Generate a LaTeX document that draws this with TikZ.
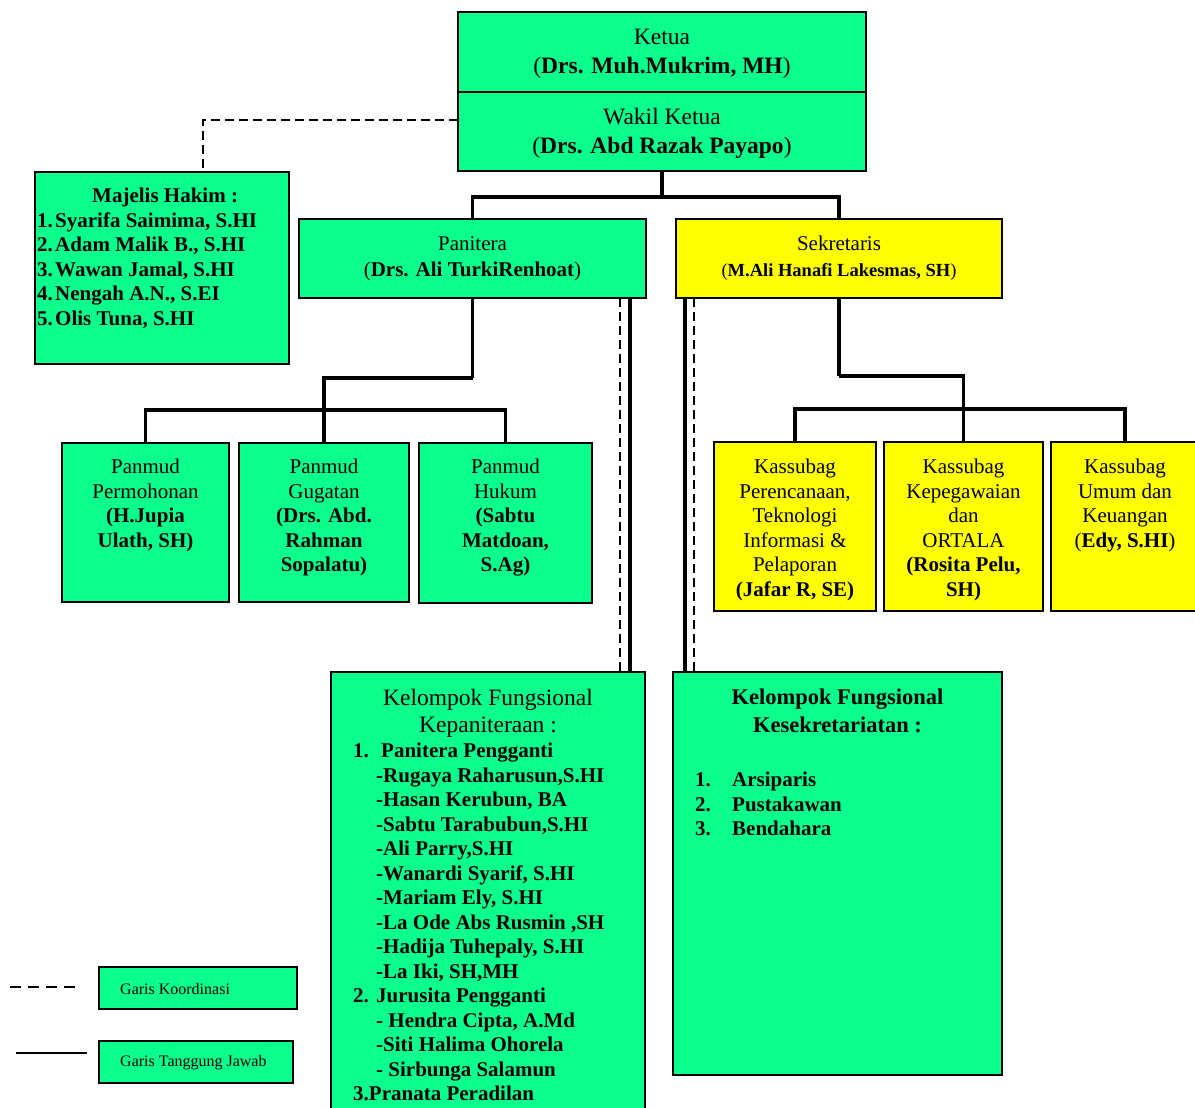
\documentclass[tikz,border=0pt]{standalone}
\usepackage{fontspec}
\setmainfont{Liberation Serif}
\usetikzlibrary{positioning}
\definecolor{hijau}{RGB}{10,255,140}
\definecolor{kuning}{RGB}{255,255,0}

\begin{document}
\begin{tikzpicture}[x=1pt,y=-1pt,
  kotak/.style={draw, line width=1.8pt, anchor=north west, inner sep=0pt, outer sep=0pt},
  hijaubox/.style={kotak, fill=hijau},
  kuningbox/.style={kotak, fill=kuning},
  isi/.style={align=center, inner sep=0pt, font=\fontsize{21}{24.5}\selectfont},
  tebal/.style={isi, align=left, anchor=north west, font=\fontsize{21}{24.5}\selectfont\bfseries},
  garis/.style={line width=3.3pt},
  putus/.style={line width=2pt, dash pattern=on 9pt off 5pt},
  putuslegend/.style={line width=2.2pt, dash pattern=on 11pt off 7pt}]
\useasboundingbox (0,0) rectangle (1195,1108);
\fill[white] (0,0) rectangle (1195,1108);
% pimpinan:
\node[hijaubox, minimum width=408, minimum height=80] (ketua) at (458,12) {};
\node[hijaubox, minimum width=408, minimum height=79] (wakil) at (458,92) {};
\node[isi, font=\fontsize{23.5}{29}\selectfont] (tketua) at ([yshift=-2pt]ketua.center) {Ketua\\(\textbf{Drs. Muh.Mukrim, MH})};
\node[isi, font=\fontsize{23.5}{29}\selectfont] (twakil) at ([yshift=-2pt]wakil.center) {Wakil Ketua\\(\textbf{Drs. Abd Razak Payapo})};
\node[hijaubox, minimum width=254, minimum height=192] (majelis) at (35,172) {};
\node[tebal] (tmajelis) at (37,188) {\hspace*{55pt}Majelis Hakim :\\\makebox[18pt][l]{1.}Syarifa Saimima, S.HI\\\makebox[18pt][l]{2.}Adam Malik B., S.HI\\\makebox[18pt][l]{3.}Wawan Jamal, S.HI\\\makebox[18pt][l]{4.}Nengah A.N., S.EI\\\makebox[18pt][l]{5.}Olis Tuna, S.HI};
\node[hijaubox, minimum width=347, minimum height=79, align=center, font=\fontsize{21}{26}\selectfont] (panitera) at (299,219) {Panitera\\(\textbf{Drs. Ali TurkiRenhoat})};
\node[kuningbox, minimum width=326, minimum height=79, align=center, font=\fontsize{21}{26}\selectfont] (sekretaris) at (676,219) {Sekretaris\\{\fontsize{18.5}{26}\selectfont(\textbf{M.Ali Hanafi Lakesmas, SH})}};
% panmud:
\node[hijaubox, minimum width=167, minimum height=159] (pper) at (62,443) {};
\node[hijaubox, minimum width=170, minimum height=159] (pgug) at (239,443) {};
\node[hijaubox, minimum width=173, minimum height=160] (phuk) at (419,443) {};
\node[isi, anchor=north] (tpper) at (pper.north |- 0,459) {Panmud\\Permohonan\\\textbf{(H.Jupia}\\\textbf{Ulath, SH)}};
\node[isi, anchor=north] (tpgug) at (pgug.north |- 0,459) {Panmud\\Gugatan\\\textbf{(Drs. Abd.}\\\textbf{Rahman}\\\textbf{Sopalatu)}};
\node[isi, anchor=north] (tphuk) at (phuk.north |- 0,459) {Panmud\\Hukum\\\textbf{(Sabtu}\\\textbf{Matdoan,}\\\textbf{S.Ag)}};
% kassubag:
\node[kuningbox, minimum width=162, minimum height=169] (kper) at (714,442) {};
\node[kuningbox, minimum width=159, minimum height=169] (kkep) at (884,442) {};
\node[kuningbox, minimum width=148, minimum height=169] (kum) at (1051,442) {};
\node[isi, anchor=north] (tkper) at (kper.north |- 0,459) {Kassubag\\Perencanaan,\\Teknologi\\Informasi \&\\Pelaporan\\\textbf{(Jafar R, SE)}};
\node[isi, anchor=north] (tkkep) at (kkep.north |- 0,459) {Kassubag\\Kepegawaian\\dan\\ORTALA\\\textbf{(Rosita Pelu,}\\\textbf{SH)}};
\node[isi, anchor=north] (tkum) at (kum.north |- 0,459) {Kassubag\\Umum dan\\Keuangan\\(\textbf{Edy, S.HI})};
% kelompok fungsional:
\node[hijaubox, minimum width=314, minimum height=445] (kpan) at (331,672) {};
\node[hijaubox, minimum width=329, minimum height=403] (ksek) at (673,672) {};
\node[isi, anchor=north, font=\fontsize{23.5}{27}\selectfont] (tkpan) at (kpan.north |- 0,689) {Kelompok Fungsional\\Kepaniteraan :};
\node[tebal] (lkpan) at (353,743) {\makebox[28pt][l]{1.}Panitera Pengganti\\\hspace*{23pt}-Rugaya Raharusun,S.HI\\\hspace*{23pt}-Hasan Kerubun, BA\\\hspace*{23pt}-Sabtu Tarabubun,S.HI\\\hspace*{23pt}-Ali Parry,S.HI\\\hspace*{23pt}-Wanardi Syarif, S.HI\\\hspace*{23pt}-Mariam Ely, S.HI\\\hspace*{23pt}-La Ode Abs Rusmin ,SH\\\hspace*{23pt}-Hadija Tuhepaly, S.HI\\\hspace*{23pt}-La Iki, SH,MH\\\makebox[23pt][l]{2.}Jurusita Pengganti\\\hspace*{23pt}- Hendra Cipta, A.Md\\\hspace*{23pt}-Siti Halima Ohorela\\\hspace*{23pt}- Sirbunga Salamun\\3.Pranata Peradilan};
\node[isi, anchor=north, font=\fontsize{22.5}{28}\selectfont\bfseries] (tksek) at (ksek.north |- 0,689) {Kelompok Fungsional\\Kesekretariatan :};
\node[tebal] (lksek) at (695,772) {\makebox[37pt][l]{1.}Arsiparis\\\makebox[37pt][l]{2.}Pustakawan\\\makebox[37pt][l]{3.}Bendahara};
% garis tanggung jawab:
\draw[garis] (wakil.south) -- ++(0,26) coordinate (cab);
\draw[garis] (panitera.north) |- (cab) -| (sekretaris.north);
\draw[garis] (panitera.south) -- ++(0,80) coordinate (cpan);
\draw[garis] (cpan) -| (pgug.north);
\draw[garis] (pper.north) |- (pgug.north |- 0,410) -| (phuk.north);
\draw[garis] (sekretaris.south) -- ++(0,78) coordinate (csek);
\draw[garis] (csek) -| (kkep.north);
\draw[garis] (kper.north) |- (kkep.north |- 0,409) -| (kum.north);
\draw[garis] (panitera.south -| 630,0) -- (kpan.north -| 630,0);
\draw[garis] (sekretaris.south -| 685,0) -- (ksek.north -| 685,0);
% garis koordinasi:
\draw[putus] (wakil.west |- 0,120) -| (majelis.north -| 203,0);
\draw[putus] (panitera.south -| 620,0) -- (kpan.north -| 620,0);
\draw[putus] (sekretaris.south -| 694,0) -- (ksek.north -| 694,0);
% keterangan:
\node[hijaubox, minimum width=198, minimum height=42] (bkoor) at (99,967) {};
\node[hijaubox, minimum width=194, minimum height=42] (btj) at (99,1041) {};
\node[anchor=west, inner sep=0pt, font=\fontsize{16}{19}\selectfont] (tkoor) at (120,989) {Garis Koordinasi};
\node[anchor=west, inner sep=0pt, font=\fontsize{16}{19}\selectfont] (ttj) at (120,1063) {Garis Tanggung Jawab};
\coordinate (k1) at (10,987);
\coordinate (k2) at (77,987);
\coordinate (t1) at (16,1053);
\coordinate (t2) at (87,1053);
\draw[putuslegend] (k1) -- (k2);
\draw[line width=2pt] (t1) -- (t2);
\end{tikzpicture}
\end{document}
